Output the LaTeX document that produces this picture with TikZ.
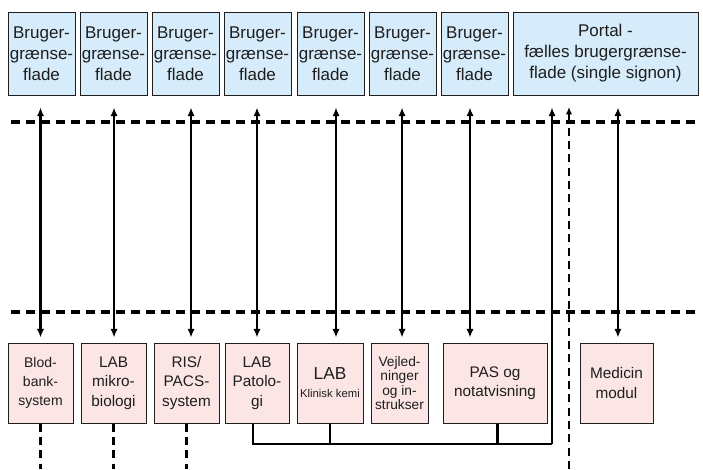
\documentclass[tikz,border=0pt]{standalone}
\usepackage{fontspec}
\setmainfont{Liberation Sans}
\usetikzlibrary{calc, positioning}
\usetikzlibrary{arrows.meta}

\definecolor{uiblue}{RGB}{214,236,250}
\definecolor{sysrose}{RGB}{252,229,229}
\definecolor{ink}{RGB}{30,30,30}

\tikzset{
  ui/.style={draw=ink, line width=0.75pt, fill=uiblue, inner sep=0pt, align=center,
    minimum height=62.25pt, text=ink, font=\fontsize{12.75}{15.75}\selectfont},
  sys/.style={draw=ink, line width=0.75pt, fill=sysrose, inner sep=0pt, align=center,
    minimum height=60pt, text=ink, font=\fontsize{11.5}{14.6}\selectfont},
  link/.style={line width=1.8pt, {Latex[length=6.5pt,width=5.5pt]}-{Latex[length=6.5pt,width=5.5pt]},
    shorten <=3.75pt, shorten >=9pt},
  bus/.style={line width=1.8pt},
  sep/.style={line width=2.4pt, dash pattern=on 6.75pt off 4.5pt},
  stub/.style={line width=1.7pt, dash pattern=on 6pt off 4pt}
}

\begin{document}
\begin{tikzpicture}[x=0.75pt, y=-0.75pt]
\useasboundingbox (0,0) rectangle (703,469);

% User interfaces
\node[ui, minimum width=50.25pt] (T1) at (41.5,53.5) {Bruger-\\grænse-\\flade};
\node[ui, minimum width=50.25pt] (T2) at (113.5,53.5) {Bruger-\\grænse-\\flade};
\node[ui, minimum width=50.25pt] (T3) at (185.5,53.5) {Bruger-\\grænse-\\flade};
\node[ui, minimum width=50.25pt] (T4) at (257.5,53.5) {Bruger-\\grænse-\\flade};
\node[ui, minimum width=50.25pt] (T5) at (330.5,53.5) {Bruger-\\grænse-\\flade};
\node[ui, minimum width=50.25pt] (T6) at (402.5,53.5) {Bruger-\\grænse-\\flade};
\node[ui, minimum width=50.25pt] (T7) at (474.5,53.5) {Bruger-\\grænse-\\flade};
\node[ui, minimum width=138.75pt] (TP) at (605.5,53.5) {Portal -\\fælles brugergrænse-\\flade (single signon)};

% Systems
\node[sys, minimum width=48.75pt, font=\fontsize{10.5}{14.2}\selectfont] (B1) at (40.5,383) {Blod-\\bank-\\system};
\node[sys, minimum width=48.75pt] (B2) at (113.5,383) {LAB\\mikro-\\biologi};
\node[sys, minimum width=48.75pt] (B3) at (186.5,383) {RIS/\\PACS-\\system};
\node[sys, minimum width=48pt] (B4) at (257,383) {LAB\\Patolo-\\gi};
\node[sys, minimum width=49.5pt] (B5) at (330,383) {\fontsize{13}{13}\selectfont LAB\\[-1pt]\fontsize{8.5}{10}\selectfont Klinisk kemi};
\node[sys, minimum width=42.75pt, font=\fontsize{10.3}{10.8}\selectfont] (B6) at (399.5,383) {Vejled-\\ninger\\og in-\\strukser};
\node[sys, minimum width=78pt] (B7) at (495,383) {PAS og\\notatvisning};
\node[sys, minimum width=54.75pt] (BM) at (616.5,383) {Medicin\\modul};

% Layer borders
\coordinate (floor) at (0,469);
\draw[sep] (11,122) -- (700,122);
\draw[sep] (11,312) -- (700,312);
\draw[line width=1.6pt, dash pattern=on 6pt off 4pt, -{Latex[length=5.5pt,width=4.8pt]}] (569,469) -- (569,107);

% Stand-alone systems continue below
\foreach \b in {B1,B2,B3}
  \draw[stub] (\b.south) -- (\b.south |- floor);

% Interface to system links
\foreach \b/\t/\dx in {B1/T1/0, B2/T2/0.4, B3/T3/3.4, B4/T4/0, B5/T5/4.5, B6/T6/1.9, B7/T7/-18.75, BM/TP/1.1}
  \draw[link] ([xshift=\dx pt]\b.north) -- ([xshift=\dx pt]\b.north |- \t.south);

% Common connection to the portal
\coordinate (busR) at (552,444);
\draw[bus] ([xshift=-3pt]B4.south) |- (busR);
\draw[bus] (B5.south) -- (B5.south |- busR);
\draw[bus] ([xshift=2pt]B7.south) -- ([xshift=2pt]B7.south |- busR);
\draw[bus, -{Latex[length=6.5pt,width=5.5pt]}, shorten >=9pt] (busR) -- (busR |- TP.south);
\end{tikzpicture}
\end{document}
